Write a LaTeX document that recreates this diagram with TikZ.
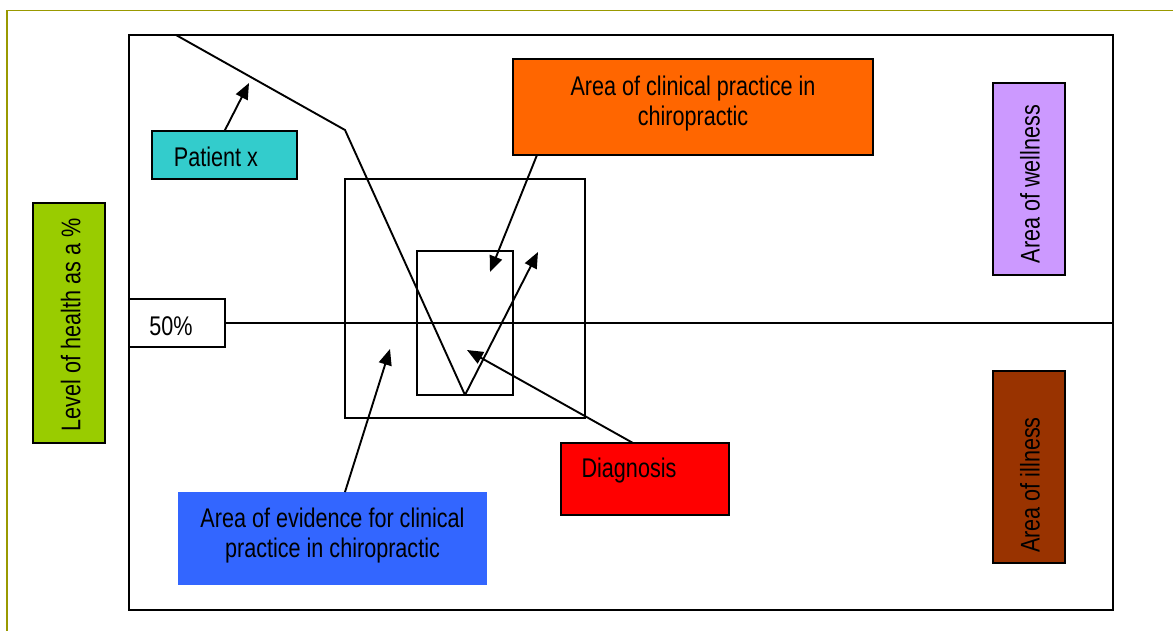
\documentclass[tikz,border=0pt]{standalone}
\usepackage{fontspec}
\setmainfont[FakeStretch=0.8]{Liberation Sans}
\usetikzlibrary{arrows.meta}
\definecolor{framecol}{HTML}{999900}
\definecolor{patientcol}{HTML}{33CCCC}
\definecolor{clinicalcol}{HTML}{FF6600}
\definecolor{wellcol}{HTML}{CC99FF}
\definecolor{illcol}{HTML}{993300}
\definecolor{healthcol}{HTML}{99CC00}
\definecolor{diagcol}{HTML}{FF0000}
\definecolor{evidcol}{HTML}{3366FF}
\begin{document}
\begin{tikzpicture}[x=1pt,y=-1pt,
  panel/.style={draw=black, line width=1.9pt, inner sep=0pt, outer sep=0pt, rectangle},
  flat/.style={inner sep=0pt, outer sep=0pt, rectangle},
  lbl/.style={inner sep=0pt, outer sep=0pt, font=\fontsize{27}{30}\selectfont, align=center},
  conn/.style={line width=1.9pt, line join=miter},
  pointer/.style={line width=1.9pt, -{Triangle[length=16pt,width=13pt]}}]
\useasboundingbox (0,0) rectangle (1173,630);
\clip (0,0) rectangle (1173,630);
\fill[white] (0,0) rectangle (1173,630);
% page frame
\draw[framecol, line width=1.3pt] (7,10.5) rectangle (1200,660);

% main chart area and its regions
\node[panel, minimum width=984pt, minimum height=575pt] (main) at (621,322.5) {};
\node[panel, minimum width=240pt, minimum height=239pt] (evidsq) at (465,298.5) {};
\node[panel, minimum width=96pt, minimum height=144pt] (clinsq) at (465,323) {};

% labelled boxes
\node[panel, fill=white, minimum width=96pt, minimum height=48pt] (fifty) at (177,323) {};
\node[lbl] (fiftytxt) at (171,326) {50\%};

\node[panel, fill=patientcol, minimum width=145pt, minimum height=48pt] (patient) at (224.5,155) {};
\node[lbl] (patienttxt) at (216,156.7) {Patient x};

\node[panel, fill=clinicalcol, minimum width=360pt, minimum height=96pt] (clinical) at (693,107) {};
\node[lbl] (clinicaltxt) at (693,104) {Area of clinical practice in\\chiropractic};

\node[panel, fill=wellcol, minimum width=72pt, minimum height=192pt] (wellness) at (1029,179) {};
\node[lbl, rotate=90] (wellnesstxt) at (1030,184) {Area of wellness};

\node[panel, fill=illcol, minimum width=72pt, minimum height=192pt] (illness) at (1029,467) {};
\node[lbl, rotate=90] (illnesstxt) at (1030,485) {Area of illness};

\node[panel, fill=healthcol, minimum width=72pt, minimum height=240pt] (health) at (69,323) {};
\node[lbl, rotate=90] (healthtxt) at (70.7,325) {Level of health as a \%};

\node[panel, fill=diagcol, minimum width=168pt, minimum height=72pt] (diag) at (645,479) {};
\node[lbl] (diagtxt) at (629,470.7) {Diagnosis};

\node[flat, fill=evidcol, minimum width=309pt, minimum height=93pt] (evid) at (332.5,538.5) {};
\node[lbl] (evidtxt) at (332.5,535.7) {Area of evidence for clinical\\practice in chiropractic};

% 50% level line
\draw[conn] (fifty.east) -- (main.east |- fifty.east);

% course of patient x
\coordinate (pstart) at (176,35);
\coordinate (pbend) at (345,130);
\coordinate (prise) at (538,252);
\draw[conn] (pstart) -- (pbend) -- (clinsq.south);
\draw[pointer] (clinsq.south) -- (prise);

% pointers from the labels
\coordinate (patienttip) at (249,83);
\coordinate (clinicaltip) at (490,272);
\coordinate (diagtip) at (467,350);
\coordinate (evidtip) at (390,349);
\draw[pointer] (patient.north) -- (patienttip);
\draw[pointer] ([xshift=-156pt]clinical.south) -- (clinicaltip);
\draw[pointer] ([xshift=-12pt]diag.north) -- (diagtip);
\draw[pointer] ([xshift=12.5pt]evid.north) -- (evidtip);
\end{tikzpicture}
\end{document}
